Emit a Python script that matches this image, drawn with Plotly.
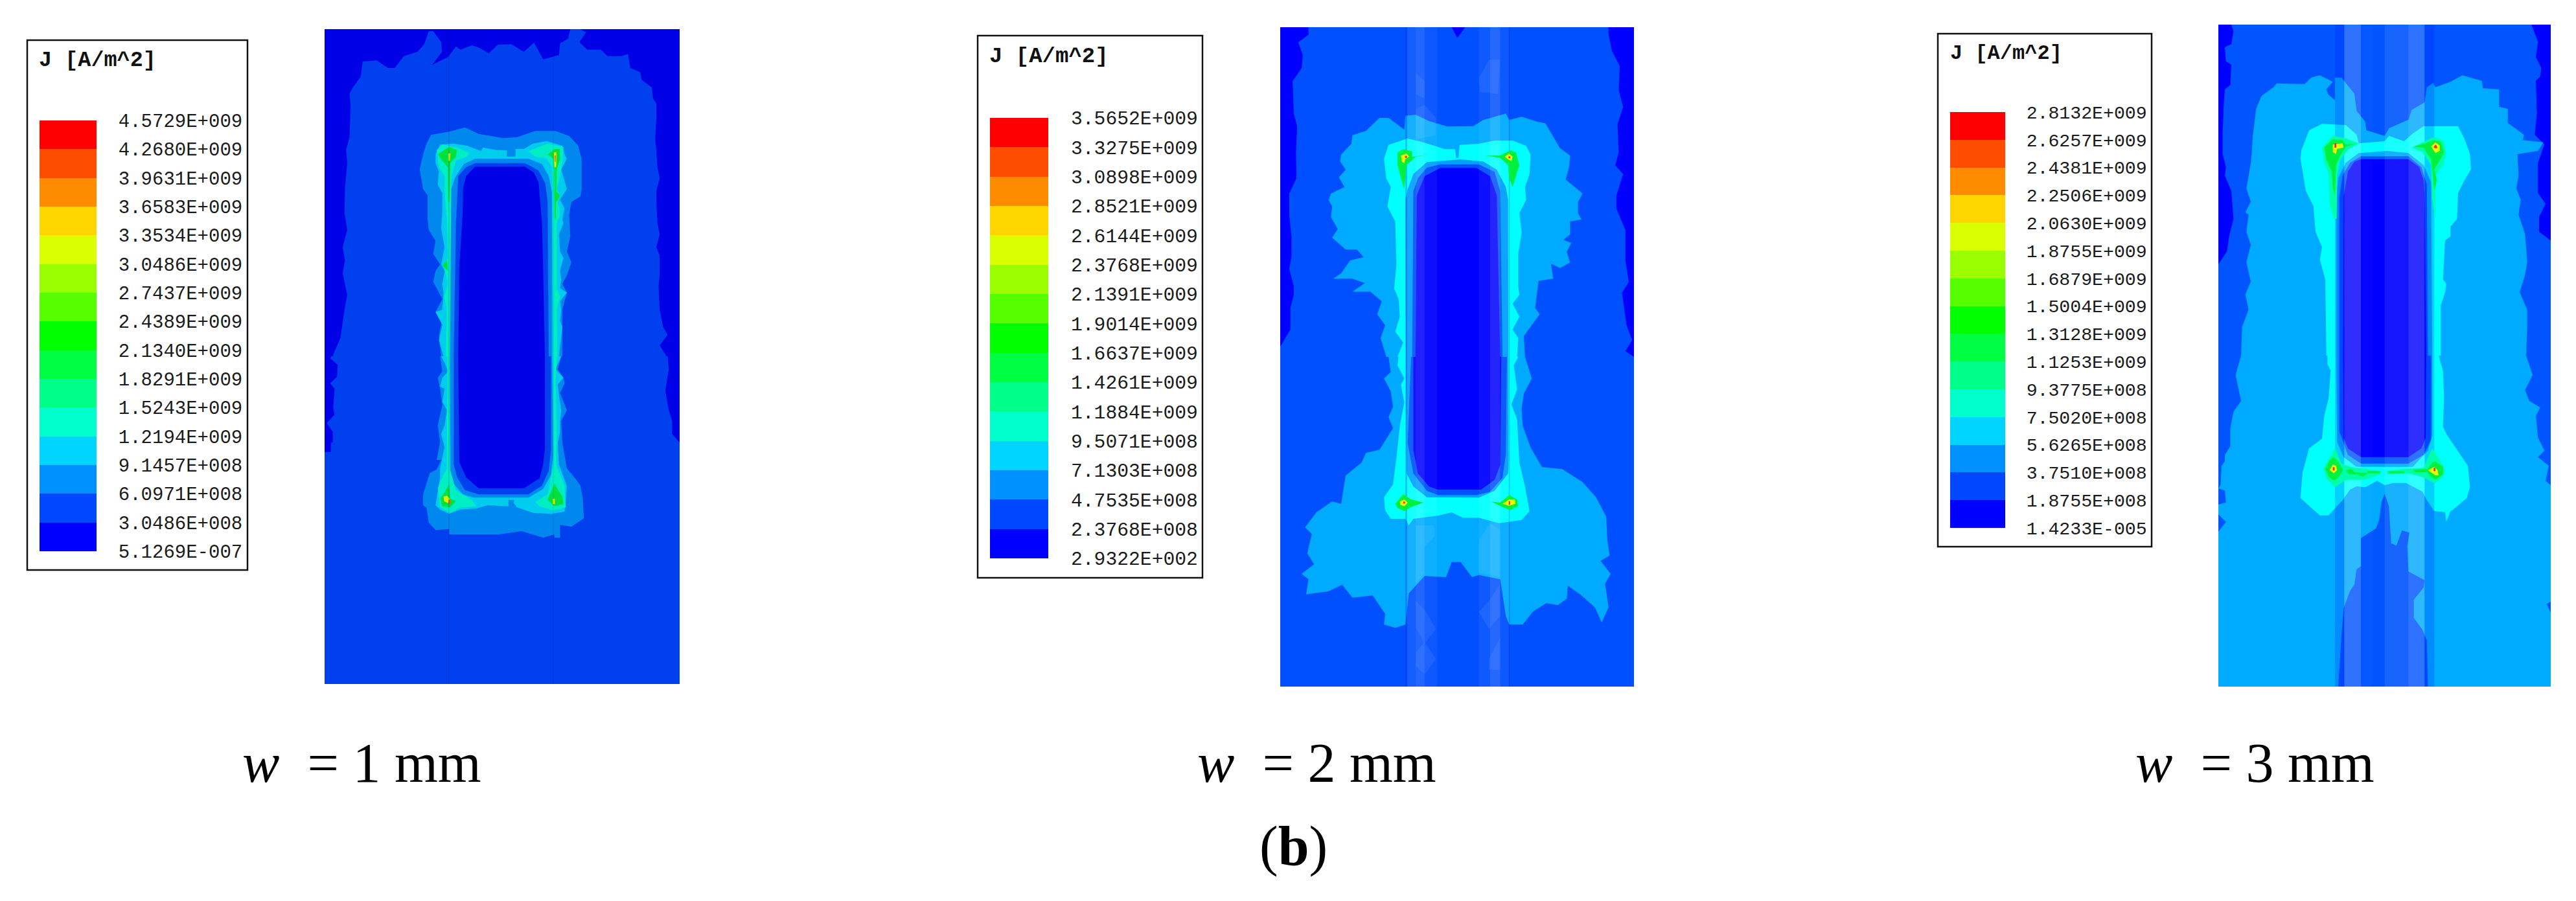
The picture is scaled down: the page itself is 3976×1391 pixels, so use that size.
import plotly.graph_objects as go

W, H = 3976, 1391

# ---------- legend data ----------
TITLE = "J [A/m^2]"
BAND_COLORS = ["#0000ff", "#0048ff", "#0090ff", "#00d5ff", "#00ffcc", "#00ff88", "#00ff44", "#00ff00",
               "#55ff00", "#99ff00", "#d9ff00", "#ffd500", "#ff8c00", "#ff4d00", "#ff0000"]
LEVELS_1 = ["5.1269E-007", "3.0486E+008", "6.0971E+008", "9.1457E+008", "1.2194E+009", "1.5243E+009", "1.8291E+009", "2.1340E+009",
            "2.4389E+009", "2.7437E+009", "3.0486E+009", "3.3534E+009", "3.6583E+009", "3.9631E+009", "4.2680E+009", "4.5729E+009"]
LEVELS_2 = ["2.9322E+002", "2.3768E+008", "4.7535E+008", "7.1303E+008", "9.5071E+008", "1.1884E+009", "1.4261E+009", "1.6637E+009",
            "1.9014E+009", "2.1391E+009", "2.3768E+009", "2.6144E+009", "2.8521E+009", "3.0898E+009", "3.3275E+009", "3.5652E+009"]
LEVELS_3 = ["1.4233E-005", "1.8755E+008", "3.7510E+008", "5.6265E+008", "7.5020E+008", "9.3775E+008", "1.1253E+009", "1.3128E+009",
            "1.5004E+009", "1.6879E+009", "1.8755E+009", "2.0630E+009", "2.2506E+009", "2.4381E+009", "2.6257E+009", "2.8132E+009"]
CAPTIONS = ["1", "2", "3"]

# ---------- panel 1 field contours: (upper chain, lower chain, upper chain) ----------
P1_BAND1 = (
    [(0, 1515), (35, 1515), (70, 1430), (88, 1300), (100, 1230), (80, 1130), (90, 1070), (80, 1010), (100, 930), (88, 850), (90, 740), (100, 620), (95, 560), (110, 500), (115, 350), (110, 300), (125, 270), (160, 220), (168, 150), (230, 145), (280, 180), (310, 180), (350, 125), (410, 105), (440, 70), (460, 10), (480, 10), (515, 60), (518, 105), (475, 165), (545, 130), (580, 80), (600, 95), (650, 75), (680, 85), (725, 112), (765, 72), (825, 70), (880, 105), (925, 62), (965, 140), (1035, 120), (1040, 65), (1075, 45), (1085, 0), (1130, 0), (1155, 15), (1125, 60), (1160, 95), (1220, 95), (1250, 125), (1310, 125), (1340, 115), (1350, 180), (1395, 200), (1400, 235), (1445, 270), (1450, 320), (1465, 345), (1465, 420), (1460, 510), (1465, 560), (1470, 640), (1480, 690), (1465, 750), (1465, 800), (1470, 900), (1480, 950), (1465, 1010), (1480, 1050), (1480, 1140), (1475, 1190), (1480, 1300), (1495, 1380), (1515, 1415), (1480, 1465), (1510, 1515)],
    [(1515, 0), (1520, 60), (1510, 120), (1505, 160), (1520, 250), (1535, 300), (1535, 360), (1568, 400), (1568, 1518), (0, 1518), (0, 443), (28, 443), (28, 400), (36, 400), (36, 350), (10, 310), (44, 270), (38, 240), (44, 150), (25, 125), (55, 95), (58, 40), (25, 10), (30, 0)],
    [],
)
P1_BAND2 = (
    [(470, 490), (550, 475), (620, 455), (680, 485), (790, 505), (850, 500), (930, 472), (1020, 472), (1080, 495), (1120, 540), (1135, 600), (1135, 740), (1130, 775), (1090, 800), (1080, 860), (1085, 960), (1070, 1030), (1090, 1080), (1070, 1140), (1050, 1180), (1070, 1220), (1050, 1300), (1050, 1515)],
    [(1045, 0), (1030, 60), (1055, 100), (1060, 125), (1040, 170), (1070, 250), (1045, 300), (1050, 400), (1070, 520), (1110, 570), (1130, 600), (1140, 660), (1145, 750), (1090, 790), (1040, 780), (1040, 840), (1015, 840), (1015, 825), (965, 840), (870, 810), (770, 825), (655, 825), (550, 825), (550, 800), (490, 805), (460, 770), (450, 700), (435, 690), (435, 640), (465, 540), (495, 525), (515, 480), (495, 480), (510, 400), (500, 320), (520, 225), (510, 150), (500, 100), (520, 70), (510, 0)],
    [(515, 1515), (505, 1420), (520, 1340), (490, 1310), (520, 1250), (480, 1170), (490, 1120), (510, 1090), (480, 1040), (490, 980), (460, 930), (455, 880), (455, 770), (435, 740), (420, 650), (435, 580), (450, 530)],
)
P1_BAND3 = (
    [(510, 535), (570, 530), (630, 540), (690, 565), (700, 548), (760, 560), (805, 562), (805, 590), (843, 590), (843, 555), (880, 555), (920, 530), (980, 518), (1050, 540), (1060, 580), (1070, 600), (1045, 650), (1060, 700), (1070, 740), (1040, 790), (1060, 830), (1050, 880), (1055, 900), (1035, 950), (1040, 1030), (1055, 1060), (1040, 1120), (1045, 1160), (1040, 1200), (1070, 1220), (1040, 1260), (1045, 1300), (1040, 1350), (1050, 1380), (1035, 1515)],
    [(1045, 0), (1020, 60), (1055, 100), (1030, 130), (1035, 180), (1045, 250), (1040, 300), (1040, 350), (1030, 400), (1035, 500), (1070, 600), (1060, 720), (1000, 730), (920, 725), (850, 700), (835, 680), (838, 665), (812, 665), (812, 695), (720, 690), (670, 705), (600, 710), (550, 730), (510, 710), (490, 690), (500, 620), (510, 560), (510, 520), (530, 420), (520, 380), (515, 360), (530, 320), (540, 250), (520, 210), (530, 150), (510, 140), (520, 100), (545, 70), (530, 30), (515, 0)],
    [(525, 1515), (505, 1440), (520, 1370), (490, 1310), (520, 1300), (525, 1220), (520, 1180), (530, 1120), (515, 1090), (530, 1010), (515, 920), (520, 850), (520, 760), (500, 720), (505, 660), (490, 620), (490, 580)],
)
P1_HOLE2 = (
    [(553, 760), (575, 690), (615, 625), (665, 600), (900, 600), (960, 625), (990, 680), (1005, 760), (1005, 1515)],
    [(1005, 0), (1010, 460), (1000, 550), (965, 615), (900, 655), (660, 655), (610, 640), (570, 590), (555, 540), (553, 0)],
    [(553, 1515)],
)
P1_HOLE1 = (
    [(590, 680), (625, 640), (665, 620), (885, 620), (945, 655), (975, 715), (985, 800), (990, 1515)],
    [(1000, 0), (1000, 430), (990, 530), (960, 600), (900, 640), (680, 640), (620, 620), (585, 560), (570, 500), (570, 0)],
    [(570, 1515), (580, 900)],
)
P1_HOLE0 = (
    [(612, 735), (625, 680), (665, 637), (885, 637), (925, 665), (945, 710), (960, 900), (965, 1100), (973, 1515)],
    [(973, 0), (973, 430), (965, 500), (950, 565), (880, 612), (680, 612), (625, 560), (595, 490), (590, 0)],
    [(590, 1515), (595, 1100), (610, 850)],
)
P1_TEAL = [
    ([(495, 560), (520, 535), (590, 550), (640, 575), (630, 590), (580, 610), (560, 680), (555, 1515)], [(553, 0), (553, 520), (580, 620), (650, 665), (670, 695), (600, 700), (555, 725), (510, 700), (500, 610), (520, 560), (540, 520), (540, 300), (543, 160), (542, 0)], [(535, 1515), (540, 1300), (528, 1240), (545, 1180), (525, 1090), (545, 1060), (540, 880), (530, 760), (530, 680), (505, 640)]),
    ([(900, 565), (985, 530), (1055, 545), (1050, 620), (1040, 680), (1025, 740), (1040, 770), (1030, 800), (1040, 860), (1025, 900), (1025, 1200), (1040, 1240), (1025, 1300), (1028, 1515)], [(1026, 0), (1020, 120), (1025, 350), (1022, 500), (1060, 600), (1065, 700), (1010, 715), (950, 695), (930, 675), (985, 640), (1010, 500), (1010, 0)], [(1010, 1515), (1005, 640), (980, 600), (930, 590)]),
]
P1_GREEN = [
    ([(500, 580), (550, 545), (585, 560), (580, 590), (555, 620), (552, 800), (546, 800), (545, 640), (520, 610)], [], []),
    ([(985, 580), (1015, 555), (1040, 555), (1040, 600), (1025, 650), (1021, 880), (1016, 880), (1014, 640), (1010, 600)], [], []),
    ([(1015, 740), (1040, 770), (1025, 800), (1015, 780)], [], []),
    ([(520, 1095), (540, 1070), (545, 1120), (535, 1110)], [], []),
    ([], [(510, 660), (530, 630), (550, 590), (555, 660), (580, 670), (555, 700), (520, 695)], []),
    ([], [(985, 665), (1015, 590), (1050, 650), (1055, 685), (1015, 695)], []),
]
P1_YELLOW = [
    ([(1012, 570), (1024, 570), (1023, 640), (1015, 640)], [], []),
    ([(546, 575), (556, 575), (553, 610), (547, 610)], [], []),
    ([], [(525, 650), (540, 645), (553, 660), (545, 680), (528, 672)], []),
    ([], [(1007, 660), (1017, 660), (1017, 685), (1008, 685)], []),
]
P1_RED = [
    ([(1016, 585), (1021, 585), (1020, 615), (1017, 615)], [], []),
    ([], [(547, 665), (555, 665), (555, 685), (548, 685)], []),
]
P1_STRIPS = [(547, 551, "rgba(0,0,120,0.18)"), (1008, 1012, "rgba(0,0,120,0.10)")]

# ---------- panel 2 field contours ----------
P2_BAND1 = (
    [(125, 0), (125, 35), (80, 70), (100, 130), (95, 190), (55, 250), (60, 400), (75, 460), (70, 580), (72, 700), (40, 770), (40, 870), (50, 970), (50, 1060), (40, 1120), (60, 1200), (60, 1240), (45, 1300), (45, 1400), (0, 1480), (0, 1527)],
    [(0, 1527), (1568, 1527)],
    [(1568, 1527), (1530, 1500), (1560, 1450), (1535, 1380), (1530, 1340), (1515, 1230), (1545, 1180), (1530, 1080), (1530, 940), (1490, 840), (1490, 780), (1520, 680), (1485, 640), (1500, 580), (1495, 450), (1520, 370), (1500, 290), (1505, 180), (1470, 110), (1455, 30), (1455, 0), (820, 0), (785, 50), (760, 0)],
)
P2_BAND2 = (
    [(555, 410), (600, 405), (660, 435), (740, 460), (855, 458), (900, 430), (1000, 400), (1015, 430), (1070, 415), (1140, 438), (1175, 445), (1200, 490), (1240, 560), (1285, 595), (1280, 650), (1265, 705), (1340, 770), (1320, 810), (1320, 860), (1335, 890), (1285, 900), (1285, 960), (1255, 985), (1290, 1000), (1270, 1040), (1285, 1090), (1240, 1115), (1200, 1095), (1210, 1165), (1145, 1175), (1130, 1300), (1150, 1330), (1100, 1400), (1080, 1430), (1085, 1527)],
    [(1085, 0), (1115, 100), (1080, 170), (1070, 240), (1075, 320), (1110, 420), (1160, 510), (1250, 520), (1340, 580), (1400, 650), (1445, 740), (1450, 850), (1460, 920), (1420, 945), (1465, 1005), (1440, 1050), (1455, 1160), (1425, 1230), (1395, 1160), (1330, 1100), (1275, 1060), (1270, 1120), (1230, 1150), (1180, 1140), (1120, 1180), (1075, 1240), (1015, 1240), (1000, 1200), (975, 1030), (880, 1010), (850, 1020), (800, 950), (760, 950), (735, 1020), (640, 1015), (610, 1050), (570, 1095), (555, 1240), (510, 1255), (460, 1240), (465, 1190), (410, 1105), (320, 1115), (275, 1055), (215, 1085), (115, 1100), (125, 1030), (95, 1005), (150, 960), (120, 910), (140, 820), (110, 790), (160, 720), (230, 670), (270, 680), (290, 550), (360, 490), (380, 445), (440, 430), (500, 330), (480, 280), (500, 230), (490, 160), (460, 100), (490, 70), (480, 0)],
    [(470, 1527), (445, 1440), (465, 1380), (430, 1330), (450, 1270), (400, 1225), (320, 1225), (375, 1185), (320, 1165), (235, 1165), (270, 1140), (310, 1080), (370, 1065), (340, 1030), (290, 1030), (230, 975), (255, 935), (225, 880), (230, 830), (215, 800), (225, 770), (285, 740), (260, 695), (290, 660), (265, 620), (270, 590), (315, 540), (320, 500), (380, 480), (440, 420), (480, 420), (550, 475)],
)
P2_BAND3 = (
    [(480, 545), (565, 515), (640, 535), (730, 565), (775, 565), (780, 605), (790, 605), (795, 545), (880, 540), (950, 525), (1030, 525), (1090, 550), (1110, 590), (1105, 680), (1085, 740), (1090, 800), (1060, 860), (1070, 950), (1055, 1050), (1055, 1200), (1060, 1240), (1030, 1280), (1060, 1340), (1030, 1400), (1055, 1440), (1050, 1527)],
    [(1055, 0), (1035, 40), (1050, 150), (1025, 220), (1050, 290), (1060, 490), (1085, 600), (1100, 680), (1105, 715), (1070, 755), (970, 770), (880, 745), (810, 745), (760, 720), (700, 735), (590, 750), (570, 780), (555, 750), (490, 750), (465, 710), (460, 650), (500, 590), (515, 470), (530, 320), (550, 210), (535, 130), (550, 100), (520, 40), (525, 0)],
    [(520, 1527), (545, 1460), (510, 1410), (530, 1340), (525, 1260), (505, 1210), (515, 1100), (510, 900), (475, 830), (485, 770), (490, 740), (470, 700), (460, 610)],
)
P2_HOLE2 = (
    [(555, 800), (565, 750), (590, 680), (650, 625), (800, 612), (900, 622), (960, 660), (1000, 740), (1010, 800), (1012, 1527)],
    [(1012, 0), (1012, 500), (1010, 540), (950, 620), (880, 652), (650, 650), (590, 600), (560, 540), (557, 0)],
    [(557, 1527)],
)
P2_HOLE1 = (
    [(590, 760), (610, 700), (650, 650), (710, 635), (880, 635), (950, 670), (975, 760), (985, 1527)],
    [(1005, 0), (1000, 450), (985, 560), (930, 625), (870, 640), (700, 640), (650, 620), (590, 540), (565, 400), (580, 0)],
    [(585, 1527)],
)
P2_HOLE0 = (
    [(605, 780), (640, 690), (710, 652), (870, 652), (930, 690), (960, 780), (975, 1527)],
    [(980, 0), (975, 500), (950, 570), (890, 615), (700, 615), (660, 600), (610, 540), (590, 430), (590, 0)],
    [(600, 1527)],
)
P2_DIAMONDS = [
    ([(600, 210), (640, 250), (640, 330), (600, 310)], [], []),
    ([(880, 240), (925, 150), (975, 150), (965, 310), (885, 300)], [], []),
    ([(600, 380), (640, 360), (690, 420), (690, 500), (600, 520)], [], []),
    ([], [(600, 780), (680, 780), (685, 830), (640, 880), (640, 1000), (600, 1050)], []),
    ([], [(880, 850), (930, 770), (975, 800), (975, 1020), (880, 1000)], []),
    ([], [(600, 1130), (640, 1170), (690, 1260), (640, 1330), (600, 1250)], []),
    ([], [(600, 1370), (640, 1320), (690, 1400), (640, 1470), (600, 1430)], []),
    ([], [(880, 1180), (925, 1130), (975, 1050), (975, 1200), (925, 1260)], []),
    ([], [(925, 1400), (975, 1300), (975, 1450), (925, 1450)], []),
]
P2_GREEN = [
    ([(520, 580), (545, 565), (585, 575), (585, 600), (660, 590), (600, 600), (560, 640), (555, 690), (550, 750), (535, 700), (520, 640)], [], []),
    ([(910, 595), (975, 595), (1020, 570), (1045, 580), (1060, 640), (1030, 740), (1015, 700), (1010, 640), (975, 605)], [], []),
    ([], [(510, 680), (545, 635), (580, 660), (635, 675), (580, 695), (550, 715), (520, 700)], []),
    ([], [(935, 670), (975, 675), (1015, 640), (1050, 660), (1055, 690), (1020, 710), (985, 695)], []),
]
P2_YELLOW = [
    ([(535, 595), (560, 585), (572, 600), (555, 610), (550, 630), (540, 625)], [], []),
    ([(995, 600), (1015, 585), (1030, 600), (1025, 620), (1010, 612)], [], []),
    ([], [(530, 670), (550, 660), (565, 675), (550, 692), (532, 685)], []),
    ([], [(985, 680), (1015, 660), (1040, 660), (1042, 680), (1015, 690)], []),
]
P2_RED = [
    ([(553, 596), (562, 596), (562, 605), (553, 605)], [], []),
    ([(1012, 598), (1020, 598), (1020, 607), (1012, 607)], [], []),
    ([], [(545, 670), (553, 670), (553, 679), (545, 679)], []),
    ([], [(1013, 668), (1019, 668), (1019, 685), (1013, 685)], []),
]
P2_STRIPS = [(555, 562, "rgba(0,0,255,0.25)"), (562, 600, "rgba(255,255,255,0.08)"), (600, 640, "rgba(255,255,255,0.13)"), (640, 695, "rgba(255,255,255,0.05)"),
             (880, 930, "rgba(255,255,255,0.06)"), (930, 975, "rgba(255,255,255,0.14)"), (975, 1015, "rgba(255,255,255,0.05)"), (1013, 1018, "rgba(0,0,255,0.2)")]

# ---------- panel 3 field contours ----------
P3_BAND1 = (
    [(60, 0), (70, 30), (60, 90), (30, 105), (35, 170), (60, 185), (55, 280), (30, 300), (25, 370), (20, 500), (20, 600), (35, 660), (30, 700), (60, 770), (70, 900), (50, 980), (40, 1050), (0, 1110), (0, 1533)],
    [(0, 1533), (1539, 1533)],
    [(1539, 1533), (1539, 1000), (1485, 960), (1485, 890), (1515, 830), (1480, 780), (1480, 640), (1510, 555), (1465, 510), (1475, 410), (1470, 260), (1490, 240), (1495, 200), (1470, 150), (1480, 80), (1450, 0)],
)
P3_BAND2 = (
    [(175, 390), (200, 330), (255, 290), (270, 272), (400, 275), (430, 245), (470, 235), (530, 265), (500, 300), (510, 325), (540, 350), (540, 245), (570, 245), (630, 320), (640, 400), (680, 450), (685, 490), (770, 515), (790, 480), (880, 440), (895, 395), (955, 360), (965, 290), (995, 270), (1005, 290), (1075, 265), (1130, 235), (1220, 260), (1225, 295), (1300, 300), (1300, 380), (1340, 390), (1340, 455), (1415, 510), (1410, 535), (1505, 545), (1480, 585), (1385, 600), (1390, 700), (1380, 760), (1400, 810), (1390, 880), (1420, 970), (1430, 1100), (1420, 1160), (1395, 1240), (1430, 1320), (1430, 1400), (1425, 1533)],
    [(1425, 0), (1455, 90), (1420, 160), (1440, 210), (1490, 240), (1470, 280), (1480, 380), (1510, 440), (1480, 470), (1530, 510), (1515, 580), (1539, 600), (1539, 1140), (1520, 1150), (1539, 1190), (1539, 1533), (970, 1533), (965, 1320), (945, 1270), (905, 1215), (905, 1130), (950, 1075), (955, 1040), (880, 1000), (875, 880), (885, 820), (850, 810), (825, 880), (800, 870), (790, 700), (770, 640), (755, 680), (745, 760), (730, 800), (660, 845), (660, 975), (640, 990), (630, 1060), (610, 1090), (580, 1170), (570, 1300), (555, 1533), (0, 1533), (0, 815), (35, 770), (0, 735), (0, 690), (35, 680), (30, 625), (0, 615), (10, 600), (15, 510), (30, 490), (30, 460), (55, 420), (55, 340), (70, 260), (105, 210), (80, 90), (105, 0)],
    [(110, 1400), (140, 1320), (125, 1250), (150, 1190), (130, 1100), (150, 1020), (130, 960), (140, 880), (125, 870), (150, 820), (130, 760), (150, 640), (155, 590), (160, 510)],
)
P3_BAND3 = (
    [(385, 580), (420, 490), (480, 460), (590, 465), (640, 510), (650, 550), (770, 540), (790, 515), (860, 540), (900, 505), (950, 470), (1110, 470), (1140, 530), (1165, 600), (1170, 670), (1140, 720), (1110, 780), (1105, 900), (1075, 935), (1075, 980), (1050, 1000), (1045, 1100), (1040, 1180), (1055, 1200), (1050, 1240), (1030, 1300), (1030, 1440), (1030, 1533)],
    [(1020, 0), (1040, 70), (1045, 190), (1040, 330), (1060, 370), (1100, 430), (1155, 510), (1165, 610), (1150, 660), (1085, 715), (1075, 720), (1055, 770), (1050, 725), (1000, 720), (965, 670), (945, 630), (870, 590), (810, 590), (770, 600), (735, 580), (680, 610), (640, 605), (610, 620), (575, 670), (510, 740), (470, 740), (380, 660), (390, 540), (420, 430), (480, 385), (490, 280), (510, 200), (520, 70), (505, 40), (505, 0)],
    [(500, 1533), (495, 1180), (470, 1090), (480, 1030), (450, 960), (440, 840), (405, 770), (400, 740), (390, 690), (380, 620)],
)
P3_HOLE2 = (
    [(545, 800), (555, 710), (590, 640), (650, 595), (780, 585), (880, 595), (950, 650), (985, 730), (990, 1533)],
    [(990, 0), (990, 370), (970, 440), (900, 515), (640, 515), (580, 470), (550, 400), (545, 0)],
    [(545, 1533)],
)
P3_HOLE1 = (
    [(560, 800), (575, 700), (610, 640), (660, 610), (880, 610), (940, 660), (965, 740), (970, 1533)],
    [(985, 0), (985, 390), (950, 460), (880, 500), (660, 500), (600, 460), (560, 350), (560, 0)],
    [(560, 1533)],
)
P3_HOLE0 = (
    [(580, 800), (600, 680), (630, 635), (660, 623), (880, 623), (930, 660), (950, 720), (955, 800), (962, 1533)],
    [(962, 0), (960, 380), (940, 430), (880, 470), (660, 470), (600, 430), (580, 380), (578, 0)],
    [(578, 1533)],
)
P3_TEAL = [
    ([(480, 570), (530, 515), (585, 525), (650, 550), (600, 580), (565, 625), (550, 700), (548, 900), (535, 900), (515, 830), (510, 690), (490, 640)], [], []),
    ([(895, 570), (960, 540), (1000, 520), (1045, 540), (1055, 600), (1040, 650), (1005, 700), (1005, 900), (990, 800), (985, 650), (945, 590)], [], []),
    ([], [(485, 525), (515, 470), (540, 430), (570, 500), (610, 515), (750, 535), (750, 550), (680, 575), (590, 575), (540, 610), (500, 570)], []),
    ([], [(780, 535), (860, 525), (950, 520), (990, 430), (1030, 490), (1050, 530), (1040, 565), (1000, 590), (950, 565), (880, 545), (780, 550)], []),
]
P3_GREEN = [
    ([(490, 570), (530, 530), (575, 535), (590, 555), (640, 552), (590, 565), (565, 605), (545, 650), (540, 790), (530, 760), (525, 680), (500, 625)], [], []),
    ([(905, 565), (960, 550), (990, 535), (1030, 540), (1045, 590), (1025, 630), (1000, 670), (1012, 720), (1000, 770), (992, 690), (985, 625), (950, 570)], [], []),
    ([], [(495, 525), (515, 485), (535, 470), (555, 490), (578, 530), (555, 565), (535, 580), (510, 560)], []),
    ([], [(965, 530), (990, 495), (1005, 490), (1040, 515), (1040, 550), (1005, 575), (975, 555)], []),
    ([], [(590, 530), (615, 525), (630, 540), (690, 545), (670, 560), (640, 550), (605, 550)], []),
    ([], [(790, 535), (860, 535), (860, 545), (790, 545)], []),
    ([], [(690, 535), (750, 535), (750, 545), (690, 545)], []),
    ([], [(905, 528), (965, 525), (965, 540), (905, 540)], []),
]
P3_YELLOW = [
    ([(530, 555), (575, 550), (580, 570), (550, 575), (545, 600), (530, 590)], [], []),
    ([(985, 565), (1005, 545), (1025, 560), (1025, 585), (1005, 595)], [], []),
    ([], [(515, 530), (530, 505), (545, 510), (550, 530), (535, 545)], []),
    ([], [(970, 530), (1000, 515), (1015, 530), (1020, 555), (1005, 555)], []),
]
P3_RED = [
    ([(538, 550), (546, 550), (546, 570), (538, 570)], [], []),
    ([(998, 563), (1008, 556), (1015, 572), (1000, 572)], [], []),
    ([], [(530, 517), (538, 517), (538, 532), (530, 532)], []),
    ([], [(997, 520), (1005, 520), (1005, 535), (997, 535)], []),
]
P3_STRIPS = [(540, 583, "rgba(0,0,255,0.18)"), (583, 660, "rgba(255,255,255,0.18)"), (660, 715, "rgba(255,255,255,0.02)"),
             (770, 880, "rgba(255,255,255,0.09)"), (880, 955, "rgba(255,255,255,0.18)"), (955, 1000, "rgba(0,0,255,0.18)")]

# ---------- layout boxes (pixels in the page) ----------
PANELS = [
    dict(box=(501, 45, 1049, 1056), xmax=1568, ymax=3033, off=1515),
    dict(box=(1976, 42, 2522, 1060), xmax=1568, ymax=3054, off=1527),
    dict(box=(3424, 38, 3937, 1060), xmax=1539, ymax=3066, off=1533),
]
LEGENDS = [
    dict(frame=(42, 62, 382, 880), bar=(61, 186, 149, 851), title=(58, 93, 33.5), font=29, gap=27, levels=LEVELS_1),
    dict(frame=(1509, 55, 1856, 892), bar=(1528, 182, 1618, 862), title=(1525, 87, 34), font=29.7, gap=28, levels=LEVELS_2),
    dict(frame=(2991, 52, 3321, 844), bar=(3010, 173, 3095, 815), title=(3008, 83, 32), font=28.2, gap=26, levels=LEVELS_3),
]
CAPTION_X = [372, 1846, 3294]


def dom_x(a, b):
    return [a / W, b / W]


def dom_y(a, b):
    return [1 - b / H, 1 - a / H]


fig = go.Figure()
layout = {}
axis_no = 0


def next_axes(xdom, ydom, xrange, yrange):
    global axis_no
    axis_no += 1
    s = "" if axis_no == 1 else str(axis_no)
    layout["xaxis" + s] = dict(domain=xdom, range=xrange, visible=False, anchor="y" + s, fixedrange=True)
    layout["yaxis" + s] = dict(domain=ydom, range=yrange, visible=False, anchor="x" + s, fixedrange=True)
    return "x" + s, "y" + s


def region(ax, chains, off, color):
    top1, low, top2 = chains
    pts = list(top1) + [(x, y + off) for x, y in low] + list(top2)
    xs = [p[0] for p in pts] + [pts[0][0]]
    ys = [p[1] for p in pts] + [pts[0][1]]
    fig.add_trace(go.Scatter(x=xs, y=ys, xaxis=ax[0], yaxis=ax[1], mode="lines", line=dict(width=0),
                             fill="toself", fillcolor=color, hoverinfo="skip", showlegend=False))


def strips(ax, items, ymax):
    for a, b, color in items:
        fig.add_trace(go.Scatter(x=[a, b, b, a, a], y=[0, 0, ymax, ymax, 0], xaxis=ax[0], yaxis=ax[1], mode="lines",
                                 line=dict(width=0), fill="toself", fillcolor=color, hoverinfo="skip", showlegend=False))


def background(ax, xmax, ymax, color):
    strips(ax, [(0, xmax, color)], ymax)


# panel 1
p = PANELS[0]
x0, y0, x1, y1 = p["box"]
ax = next_axes(dom_x(x0, x1), dom_y(y0, y1), [0, p["xmax"]], [p["ymax"], 0])
background(ax, p["xmax"], p["ymax"], "#0000e6")
region(ax, P1_BAND1, p["off"], "#0040ee")
region(ax, P1_BAND2, p["off"], "#0088ee")
region(ax, P1_BAND3, p["off"], "#00ccee")
region(ax, P1_HOLE2, p["off"], "#0088ee")
region(ax, P1_HOLE1, p["off"], "#0040ee")
region(ax, P1_HOLE0, p["off"], "#0000e6")
for c in P1_TEAL:
    region(ax, c, p["off"], "#00eec4")
for c in P1_GREEN:
    region(ax, c, p["off"], "#00e040")
for c in P1_YELLOW:
    region(ax, c, p["off"], "#d9ee00")
for c in P1_RED:
    region(ax, c, p["off"], "#ee6000")
strips(ax, P1_STRIPS, p["ymax"])

# panel 2
p = PANELS[1]
x0, y0, x1, y1 = p["box"]
ax = next_axes(dom_x(x0, x1), dom_y(y0, y1), [0, p["xmax"]], [p["ymax"], 0])
background(ax, p["xmax"], p["ymax"], "#0000ff")
region(ax, P2_BAND1, p["off"], "#0050ff")
region(ax, P2_BAND2, p["off"], "#00aaff")
region(ax, P2_BAND3, p["off"], "#00ffff")
region(ax, P2_HOLE2, p["off"], "#00a0ff")
region(ax, P2_HOLE1, p["off"], "#0050ff")
region(ax, P2_HOLE0, p["off"], "#0000ff")
strips(ax, P2_STRIPS, p["ymax"])
for c in P2_DIAMONDS:
    region(ax, c, p["off"], "rgba(255,255,255,0.07)")
for c in P2_GREEN:
    region(ax, c, p["off"], "#00f040")
for c in P2_YELLOW:
    region(ax, c, p["off"], "#e6ff00")
for c in P2_RED:
    region(ax, c, p["off"], "#ff2000")

# panel 3
p = PANELS[2]
x0, y0, x1, y1 = p["box"]
ax = next_axes(dom_x(x0, x1), dom_y(y0, y1), [0, p["xmax"]], [p["ymax"], 0])
background(ax, p["xmax"], p["ymax"], "#0000ff")
region(ax, P3_BAND1, p["off"], "#0055ff")
region(ax, P3_BAND2, p["off"], "#00aaff")
region(ax, P3_BAND3, p["off"], "#00ffff")
region(ax, P3_HOLE2, p["off"], "#00aaff")
region(ax, P3_HOLE1, p["off"], "#0055ff")
region(ax, P3_HOLE0, p["off"], "#0000ff")
strips(ax, P3_STRIPS, p["ymax"])
for c in P3_TEAL:
    region(ax, c, p["off"], "#00ffaa")
for c in P3_GREEN:
    region(ax, c, p["off"], "#00f040")
for c in P3_YELLOW:
    region(ax, c, p["off"], "#e6ff00")
for c in P3_RED:
    region(ax, c, p["off"], "#ff2000")

# legends
shapes = []
annotations = []
scale = [[i / 15, c] for n, c in enumerate(BAND_COLORS) for i in (n, n + 1)]
for lg in LEGENDS:
    fx0, fy0, fx1, fy1 = lg["frame"]
    shapes.append(dict(type="rect", xref="paper", yref="paper", layer="below",
                       x0=fx0 / W, x1=fx1 / W, y0=1 - fy1 / H, y1=1 - fy0 / H,
                       line=dict(color="#111111", width=2.5), fillcolor="white"))
    tx, ty, tsize = lg["title"]
    annotations.append(dict(text="<b>" + TITLE.replace(" ", "\u00a0") + "</b>", xref="paper", yref="paper", x=tx / W, y=1 - ty / H, xanchor="left", yanchor="middle",
                            showarrow=False, font=dict(family="Liberation Mono", size=tsize, color="#111111")))
    bx0, by0, bx1, by1 = lg["bar"]
    vals = [float(v) for v in lg["levels"]]
    ax = next_axes(dom_x(bx0, bx1), dom_y(by0, by1), [0, 1], [vals[0], vals[-1]])
    fig.add_trace(go.Heatmap(z=[[i] for i in range(15)], x=[0, 1], y=vals, xaxis=ax[0], yaxis=ax[1], zmin=0, zmax=15,
                             colorscale=scale, showscale=False, hoverinfo="skip"))
    ya = "yaxis" + ax[1][1:]
    layout[ya].update(visible=True, showline=False, showgrid=False, zeroline=False, side="right", tickmode="array",
                      tickvals=vals, ticktext=lg["levels"], ticks="outside", ticklen=lg["gap"], tickcolor="rgba(0,0,0,0)",
                      tickfont=dict(family="Liberation Mono", size=lg["font"], color="#1a1a1a"))

# captions
for cx, num in zip(CAPTION_X, CAPTIONS):
    annotations.append(dict(text=f"<i>w</i>\u00a0\u00a0= {num} mm", xref="paper", yref="paper", x=cx / W, y=1 - 1178 / H,
                            xanchor="left", yanchor="middle", showarrow=False,
                            font=dict(family="Liberation Serif", size=86, color="black")))
annotations.append(dict(text="(<b>b</b>)", xref="paper", yref="paper", x=1996 / W, y=1 - 1306 / H, xanchor="center", yanchor="middle",
                        showarrow=False, font=dict(family="Liberation Serif", size=86, color="black")))

fig.update_layout(width=W, height=H, margin=dict(l=0, r=0, t=0, b=0, autoexpand=False), paper_bgcolor="white", plot_bgcolor="white",
                  shapes=shapes, annotations=annotations, showlegend=False, **layout)
fig.write_html("out.html", config=dict(displayModeBar=False), post_script="document.body.style.margin='0';")
